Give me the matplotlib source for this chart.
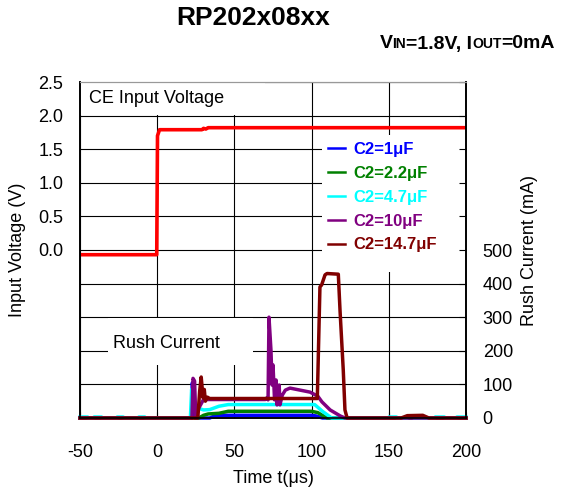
import matplotlib
matplotlib.use("Agg")
import matplotlib.pyplot as plt
from matplotlib.patches import Rectangle

plt.rcParams["font.family"] = ["Liberation Sans", "DejaVu Sans"]
plt.rcParams["axes.unicode_minus"] = False

# CE input voltage (V)
t_ce = [-50, -0.3, 0.2, 1.5, 29, 30, 31.5, 33, 34, 200]
v_ce = [-0.07, -0.07, 1.70, 1.79, 1.79, 1.81, 1.80, 1.82, 1.82, 1.82]

# rush current (mA) per C2
t_1u = [-50, 22.2, 22.8, 23.6, 24.5, 34, 38, 100, 103, 107, 200]
i_1u = [0, 0, 105, 20, 0, 0, 8, 8, 6, 0, 0]

t_2u2 = [-50, 27, 30, 33, 40, 46, 100, 104, 110, 200]
i_2u2 = [0, 0, 8, 12, 14, 20, 20, 16, 0, 0]

t_4u7 = [-50, -45, -44.9, -41, -40.9, -36, -35.9, -26, -25.9, -22, -21.9, -12, -11.9, -8, -7.9,
         21.5, 22.3, 23.2, 24.5, 26, 30, 34, 40, 46, 102, 107, 113,
         150, 150.1, 155, 155.1, 162, 162.1, 166, 166.1, 180, 180.1, 186, 186.1, 194, 194.1, 200]
i_4u7 = [3, 3, 0, 0, 3, 3, 0, 0, 3, 3, 0, 0, 3, 3, 0,
         0, 85, 30, 40, 30, 24, 25, 35, 40, 40, 20, 0,
         0, 3, 3, 0, 0, 3, 3, 0, 0, 3, 3, 0, 0, 3, 3]

t_10u = [-50, 22.5, 23.2, 24.2, 25, 27, 30, 70, 71, 71.8, 72.4, 73.7, 74.4, 75, 76, 77, 77.6, 79, 79.5, 81,
         83, 86, 92.5, 99, 104, 106.7, 112, 118.6, 121.6, 200]
i_10u = [0, 0, 118, 110, 0, 30, 55, 55, 60, 54, 300, 200, 98, 158, 54, 113, 39, 98, 39, 68,
         83, 89, 83, 77, 65, 48, 24, 6, 0, 0]

t_14u7 = [-50, 26.3, 27.5, 28.5, 29.7, 30.5, 31.2, 32.5, 34, 60, 103.7, 105.4, 106.5, 108.7, 110,
          117.3, 118.4, 120.5, 121.6, 123, 158, 162, 172, 176, 200]
i_14u7 = [0, 0, 80, 122, 60, 85, 50, 62, 58, 58, 58, 390, 396, 426, 430,
          428, 321, 143, 24, 0, 0, 7, 8, 0, 0]

rush = [
    (t_1u, i_1u, "#0000ff", "C2=1μF"),
    (t_2u2, i_2u2, "#008000", "C2=2.2μF"),
    (t_4u7, i_4u7, "#00ffff", "C2=4.7μF"),
    (t_10u, i_10u, "#800080", "C2=10μF"),
    (t_14u7, i_14u7, "#800000", "C2=14.7μF"),
]

x_ticks = [-50, 0, 50, 100, 150, 200]
v_grid = [-2.5, -2.0, -1.5, -1.0, -0.5, 0.0, 0.5, 1.0, 1.5, 2.0, 2.5]
v_labels = ["", "", "", "", "", "0.0", "0.5", "1.0", "1.5", "2.0", "2.5"]
i_grid = [0, 100, 200, 300, 400, 500, 600, 700, 800, 900, 1000]
i_labels = ["0", "100", "200", "300", "400", "500", "", "", "", "", ""]

fig = plt.figure(figsize=(5.64, 4.96), dpi=100)
ax = fig.add_axes([80 / 564, 78 / 496, 386 / 564, 336 / 496])
ax2 = ax.twinx()

ax.set_xlim(-50, 200)
ax.set_ylim(-2.5, 2.5)
ax2.set_ylim(0, 1000)

ax.set_axisbelow(True)
ax.grid(True, color="black", lw=0.8)
ax.set_xticks(x_ticks)
ax.set_yticks(v_grid)
ax.set_yticklabels(v_labels)
ax2.set_yticks(i_grid)
ax2.set_yticklabels(i_labels)

ax.tick_params(axis="x", direction="in", length=4, pad=19, labelsize=13)
ax.tick_params(axis="y", direction="in", length=0, pad=12, labelsize=13)
ax2.tick_params(axis="y", direction="in", length=5, pad=12, labelsize=13)

for a in (ax, ax2):
    a.spines["top"].set_color("#999999")
    a.spines["left"].set_linewidth(1.2)
    a.spines["bottom"].set_linewidth(1.2)
    a.spines["right"].set_linewidth(1.2)

# white label boxes over the grid
ax.add_patch(Rectangle((0, 0.903), 0.479, 0.097, transform=ax.transAxes, fc="white", ec="none", zorder=1))
ax.add_patch(Rectangle((0.627, 0.4345), 0.373, 0.4075, transform=ax.transAxes, fc="white", ec="none", zorder=1))
ax.add_patch(Rectangle((0.0725, 0.158), 0.3755, 0.14, transform=ax.transAxes, fc="white", ec="none", zorder=1))

ax.text(0.023, 0.952, "CE Input Voltage", transform=ax.transAxes, fontsize=13, va="center", zorder=3)
ax.text(0.085, 0.223, "Rush Current", transform=ax.transAxes, fontsize=13, va="center", zorder=3)

ax.plot(t_ce, v_ce, color="#ff0000", lw=2.6, zorder=2)

for t, i, c, lab in rush:
    ax2.plot(t, i, color=c, lw=2.5, label=lab, clip_on=False)

leg = ax2.legend(loc="upper left", bbox_to_anchor=(0.62, 0.846), frameon=False, borderpad=0,
                 handlelength=1.05, handletextpad=0.5, labelspacing=0.53, labelcolor="linecolor",
                 prop={"weight": "bold", "size": 12})
for h in leg.get_lines():
    h.set_linewidth(1.8)

ax.set_xlabel("Time t(μs)", fontsize=13, labelpad=6)
ax.set_ylabel("Input Voltage (V)", fontsize=13, labelpad=9)
ax2.set_ylabel("Rush Current (mA)", fontsize=13, labelpad=6)

fig.text(253 / 564, 1 - 25 / 496, "RP202x08xx", fontsize=19, weight="bold", ha="center", va="baseline")

# subtitle with small caps parts, laid out piece by piece
parts = [("V", 14), ("IN", 10), ("=1.8V, I", 14), ("OUT", 10), ("=0mA", 14)]
renderer = fig.canvas.get_renderer()
pieces = []
x = 0.0
for s, size in parts:
    txt = fig.text(x, 1 - 48.5 / 496, s, fontsize=size, weight="bold", va="baseline")
    w = txt.get_window_extent(renderer).width / fig.bbox.width
    pieces.append((txt, x))
    x += w
shift = 555 / 564 - x
for txt, x0 in pieces:
    txt.set_x(x0 + shift)

fig.savefig("out.png", dpi=100)
